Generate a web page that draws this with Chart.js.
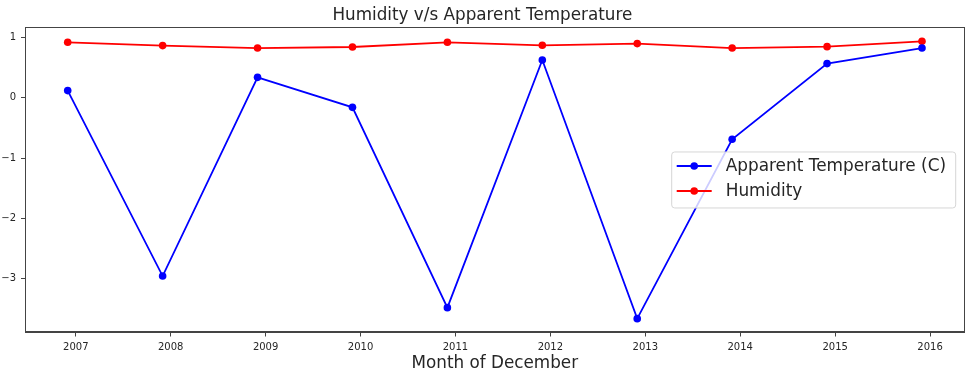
<!DOCTYPE html>
<html>
<head>
<meta charset="utf-8">
<script src="https://cdn.jsdelivr.net/npm/chart.js@4"></script>
<style>
html,body{margin:0;padding:0;background:#fff;}
#wrap{position:relative;width:974px;height:380px;}
</style>
</head>
<body>
<div id="wrap"><canvas id="c" width="974" height="380"></canvas></div>
<script>
// Data: December of each year (point sits at 1 December)
const years = [2006, 2007, 2008, 2009, 2010, 2011, 2012, 2013, 2014, 2015];
const apparentTemp = [0.116, -2.954, 0.336, -0.161, -3.477, 0.623, -3.659, -0.690, 0.563, 0.821];
const humidity = [0.916, 0.861, 0.821, 0.838, 0.916, 0.866, 0.894, 0.821, 0.844, 0.932];
const xTickYears = [2007, 2008, 2009, 2010, 2011, 2012, 2013, 2014, 2015, 2016];
const yTickValues = [-3, -2, -1, 0, 1];
const seriesNames = ['Apparent Temperature (C)', 'Humidity'];
const titleText = 'Humidity v/s Apparent Temperature';
const xAxisTitle = 'Month of December';

// December 1st as fractional year
const decFrac = 334 / 365;
const toPts = vals => vals.map((v, i) => ({x: years[i] + decFrac, y: v}));

// matplotlib-like 5% margins
const xsAll = years.map(y => y + decFrac);
const xMinD = Math.min(...xsAll), xMaxD = Math.max(...xsAll);
const allY = apparentTemp.concat(humidity);
const yMinD = Math.min(...allY), yMaxD = Math.max(...allY);
const xm = (xMaxD - xMinD) * 0.05, ym = (yMaxD - yMinD) * 0.05;

const FONT = "'DejaVu Sans', sans-serif";
const TXT = '#262626';

const frame = {
  id: 'frame',
  afterDatasetsDraw(chart) {
    const {ctx, chartArea: a} = chart;
    ctx.save();
    ctx.strokeStyle = '#444';
    ctx.lineWidth = 1;
    ctx.strokeRect(Math.round(a.left) + 0.5, Math.round(a.top) + 0.5,
                   Math.round(a.right - a.left) - 1, Math.round(a.bottom - a.top) - 1);
    ctx.restore();
  },
  afterDraw(chart) {
    const {ctx, chartArea: a} = chart;
    const ds = chart.data.datasets;
    const boxW = 284, boxH = 56;
    const right = a.right - 9;
    const left = right - boxW;
    const top = (a.top + a.bottom) / 2 - boxH / 2;
    ctx.save();
    ctx.beginPath();
    const r = 3;
    ctx.moveTo(left + r, top);
    ctx.arcTo(left + boxW, top, left + boxW, top + boxH, r);
    ctx.arcTo(left + boxW, top + boxH, left, top + boxH, r);
    ctx.arcTo(left, top + boxH, left, top, r);
    ctx.arcTo(left, top, left + boxW, top, r);
    ctx.closePath();
    ctx.fillStyle = 'rgba(255,255,255,0.8)';
    ctx.fill();
    ctx.strokeStyle = '#d6d6d6';
    ctx.lineWidth = 1;
    ctx.stroke();
    ds.forEach((d, i) => {
      const cy = top + 14 + i * 25;
      ctx.strokeStyle = d.borderColor;
      ctx.lineWidth = d.borderWidth;
      ctx.beginPath();
      ctx.moveTo(left + 5, cy);
      ctx.lineTo(left + 40, cy);
      ctx.stroke();
      ctx.fillStyle = d.pointBackgroundColor;
      ctx.beginPath();
      ctx.arc(left + 22.5, cy, d.pointRadius, 0, Math.PI * 2);
      ctx.fill();
      ctx.fillStyle = TXT;
      ctx.font = '16.9px ' + FONT;
      ctx.textBaseline = 'middle';
      ctx.textAlign = 'left';
      ctx.fillText(d.label, left + 54, cy + 1);
    });
    ctx.restore();
  }
};

new Chart(document.getElementById('c'), {
  type: 'line',
  data: {
    datasets: [
      {label: seriesNames[0], data: toPts(apparentTemp), borderColor: '#0000ff', backgroundColor: '#0000ff',
       pointBackgroundColor: '#0000ff', pointBorderWidth: 0, pointRadius: 3.8, borderWidth: 1.8, tension: 0},
      {label: seriesNames[1], data: toPts(humidity), borderColor: '#ff0000', backgroundColor: '#ff0000',
       pointBackgroundColor: '#ff0000', pointBorderWidth: 0, pointRadius: 3.8, borderWidth: 1.8, tension: 0}
    ]
  },
  options: {
    responsive: false,
    animation: false,
    layout: {padding: {left: 0, right: 9.3, top: 0, bottom: 0}},
    plugins: {
      legend: {display: false},
      tooltip: {enabled: false},
      title: {display: true, text: titleText, color: TXT,
              font: {family: FONT, size: 16.8, weight: 'normal'}, padding: {top: 5.5, bottom: 1.8}}
    },
    scales: {
      x: {
        type: 'linear', min: xMinD - xm, max: xMaxD + xm,
        afterBuildTicks: s => { s.ticks = xTickYears.map(v => ({value: v})); },
        afterFit: s => { s.height = 47.5; },
        ticks: {color: TXT, font: {family: FONT, size: 10}, padding: 4.5, maxRotation: 0,
                callback: v => String(v)},
        grid: {drawOnChartArea: false, drawTicks: true, tickLength: 4, color: '#444'},
        border: {display: true, color: '#444', width: 1},
        title: {display: true, text: xAxisTitle, color: TXT,
                font: {family: FONT, size: 16.8, weight: 'normal'}, padding: {top: 0, bottom: 6}}
      },
      y: {
        type: 'linear', min: yMinD - ym, max: yMaxD + ym,
        afterBuildTicks: s => { s.ticks = yTickValues.map(v => ({value: v})); },
        afterFit: s => { s.width = 25; },
        ticks: {color: TXT, font: {family: FONT, size: 10}, padding: 5,
                callback: v => String(v).replace('-', '\u2212')},
        grid: {drawOnChartArea: false, drawTicks: true, tickLength: 4, color: '#444'},
        border: {display: true, color: '#444', width: 1}
      }
    }
  },
  plugins: [frame]
});
</script>
</body>
</html>
